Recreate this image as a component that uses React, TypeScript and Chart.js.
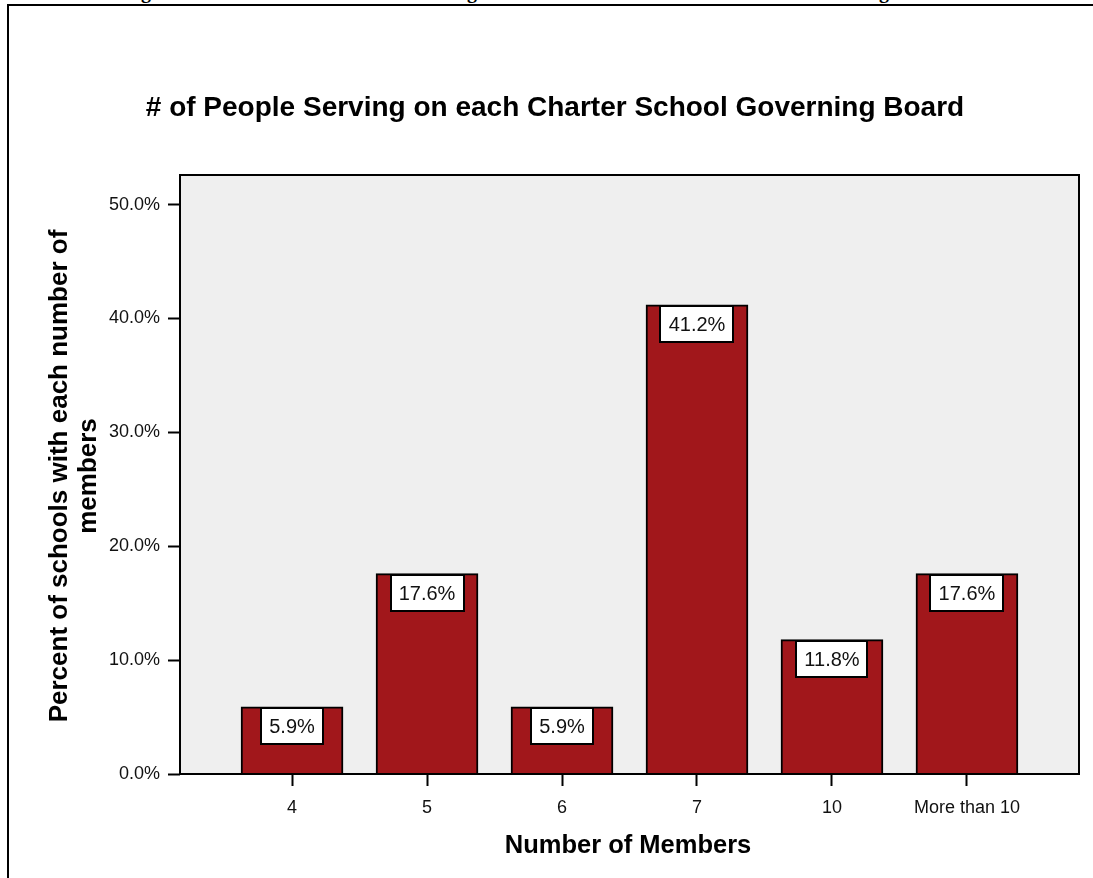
import React, { useEffect, useRef } from "react";
import { Chart, registerables } from "chart.js";

Chart.register(...registerables);

const categories: string[] = ["4", "5", "6", "7", "10", "More than 10"];
const percentValues: number[] = [5.9, 17.6, 5.9, 41.2, 11.8, 17.6];
const yTickValues: number[] = [0, 10, 20, 30, 40, 50];
const chartTitle = "# of People Serving on each Charter School Governing Board";
const yTitleLines: string[] = ["Percent of schools with each number of", "members"];
const xTitle = "Number of Members";

const FONT = "'Liberation Sans', Arial, Helvetica, sans-serif";
const BAR_COLOR = "#A1171B";
const PLOT_BG = "#EFEFEF";

export default function App() {
  const canvasRef = useRef<HTMLCanvasElement | null>(null);

  useEffect(() => {
    const canvas = canvasRef.current;
    if (!canvas) return;

    const decorPlugin = {
      id: "decor",
      beforeDraw(chart: any) {
        const { ctx, chartArea } = chart;
        ctx.save();
        ctx.fillStyle = PLOT_BG;
        ctx.fillRect(chartArea.left, chartArea.top, chartArea.right - chartArea.left, chartArea.bottom - chartArea.top);
        ctx.restore();
      },
      afterDatasetsDraw(chart: any) {
        const { ctx, chartArea } = chart;
        const meta = chart.getDatasetMeta(0);
        ctx.save();
        ctx.font = `20px ${FONT}`;
        ctx.textAlign = "center";
        ctx.textBaseline = "middle";
        meta.data.forEach((el: any, i: number) => {
          const label = percentValues[i].toFixed(1) + "%";
          const tw = ctx.measureText(label).width;
          const w = Math.round(tw + 16);
          const h = 36;
          const x = Math.round(el.x - w / 2);
          const y = Math.round(el.y) + 1;
          ctx.fillStyle = "#FFFFFF";
          ctx.fillRect(x, y, w, h);
          ctx.strokeStyle = "#000000";
          ctx.lineWidth = 2;
          ctx.strokeRect(x, y, w, h);
          ctx.fillStyle = "#111111";
          ctx.fillText(label, el.x, y + h / 2 + 1);
        });
        // plot frame
        ctx.strokeStyle = "#000000";
        ctx.lineWidth = 2;
        ctx.strokeRect(chartArea.left, chartArea.top, chartArea.right - chartArea.left, chartArea.bottom - chartArea.top);
        ctx.restore();
      },
      afterDraw(chart: any) {
        const { ctx } = chart;
        ctx.save();
        ctx.fillStyle = "#000000";
        ctx.textAlign = "center";
        ctx.textBaseline = "middle";
        ctx.font = `bold 28px ${FONT}`;
        ctx.fillText(chartTitle, 555, 108);
        ctx.font = `bold 25.5px ${FONT}`;
        ctx.fillText(xTitle, 628, 846);
        ctx.font = `bold 26px ${FONT}`;
        ctx.save();
        ctx.translate(60, 476);
        ctx.rotate(-Math.PI / 2);
        ctx.fillText(yTitleLines[0], 0, 0);
        ctx.restore();
        ctx.save();
        ctx.translate(89, 476);
        ctx.rotate(-Math.PI / 2);
        ctx.fillText(yTitleLines[1], 0, 0);
        ctx.restore();
        ctx.restore();
      },
    };

    const chart = new Chart(canvas, {
      type: "bar",
      data: {
        datasets: [
          {
            data: percentValues.map((v, i) => ({ x: i, y: v })),
            backgroundColor: BAR_COLOR,
            borderColor: "#000000",
            borderWidth: 2,
            borderSkipped: "bottom",
            barThickness: 102,
          } as any,
        ],
      },
      options: {
        animation: false,
        responsive: false,
        maintainAspectRatio: false,
        layout: { padding: { top: 175, right: 14, left: 0, bottom: 0 } },
        plugins: {
          legend: { display: false },
          tooltip: { enabled: false },
          title: { display: false },
        },
        scales: {
          x: {
            type: "linear",
            min: -0.83,
            max: 5.83,
            offset: false,
            grid: {
              offset: false,
              display: true,
              drawOnChartArea: false,
              drawTicks: true,
              tickLength: 12,
              tickWidth: 2,
              tickColor: "#000000",
            },
            border: { display: false },
            afterBuildTicks: (scale: any) => {
              scale.ticks = categories.map((_, i) => ({ value: i }));
            },
            afterFit: (scale: any) => {
              scale.height = 104;
            },
            ticks: {
              autoSkip: false,
              maxRotation: 0,
              padding: 11,
              color: "#111111",
              font: { family: FONT, size: 18 },
              callback: (v: any) => categories[Math.round(Number(v))] ?? "",
            },
          },
          y: {
            type: "linear",
            min: 0,
            max: 52.6,
            grid: {
              display: true,
              drawOnChartArea: false,
              drawTicks: true,
              tickLength: 12,
              tickWidth: 2,
              tickColor: "#000000",
            },
            border: { display: false },
            afterBuildTicks: (scale: any) => {
              scale.ticks = yTickValues.map((v) => ({ value: v }));
            },
            afterFit: (scale: any) => {
              scale.width = 180;
            },
            ticks: {
              padding: 8,
              color: "#111111",
              font: { family: FONT, size: 18 },
              callback: (v: any) => Number(v).toFixed(1) + "%",
            },
          },
        },
      } as any,
      plugins: [decorPlugin],
    });

    return () => {
      chart.destroy();
    };
  }, []);

  const gStyle = (left: number): React.CSSProperties => ({
    position: "absolute",
    left,
    top: -19,
    fontFamily: "'Liberation Serif', 'Times New Roman', serif",
    fontWeight: "bold",
    fontSize: 20,
    lineHeight: "20px",
    color: "#000",
  });

  return (
    <div
      style={{
        position: "absolute",
        left: 0,
        top: 0,
        width: 1093,
        height: 878,
        overflow: "hidden",
        background: "#FFFFFF",
      }}
    >
      <span style={gStyle(141)}>g</span>
      <span style={gStyle(467)}>g</span>
      <span style={gStyle(879)}>g</span>
      <div
        style={{
          position: "absolute",
          left: 7,
          top: 4,
          width: 1200,
          height: 1000,
          borderLeft: "2px solid #000",
          borderTop: "2px solid #000",
        }}
      />
      <canvas
        ref={canvasRef}
        width={1093}
        height={878}
        style={{ position: "absolute", left: 0, top: 0, width: 1093, height: 878 }}
      />
    </div>
  );
}
